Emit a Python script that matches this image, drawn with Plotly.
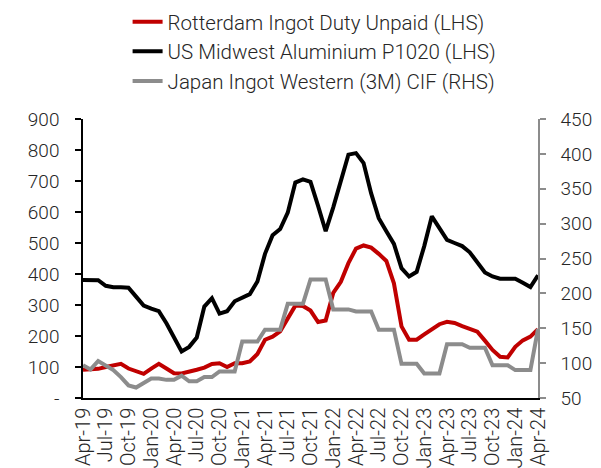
import plotly.graph_objects as go

months = [
    "Apr-19", "May-19", "Jun-19", "Jul-19", "Aug-19", "Sep-19", "Oct-19", "Nov-19", "Dec-19",
    "Jan-20", "Feb-20", "Mar-20", "Apr-20", "May-20", "Jun-20", "Jul-20", "Aug-20", "Sep-20",
    "Oct-20", "Nov-20", "Dec-20", "Jan-21", "Feb-21", "Mar-21", "Apr-21", "May-21", "Jun-21",
    "Jul-21", "Aug-21", "Sep-21", "Oct-21", "Nov-21", "Dec-21", "Jan-22", "Feb-22", "Mar-22",
    "Apr-22", "May-22", "Jun-22", "Jul-22", "Aug-22", "Sep-22", "Oct-22", "Nov-22", "Dec-22",
    "Jan-23", "Feb-23", "Mar-23", "Apr-23", "May-23", "Jun-23", "Jul-23", "Aug-23", "Sep-23",
    "Oct-23", "Nov-23", "Dec-23", "Jan-24", "Feb-24", "Mar-24", "Apr-24",
]

x_tick_labels = [
    "Apr-19", "Jul-19", "Oct-19", "Jan-20", "Apr-20", "Jul-20", "Oct-20", "Jan-21", "Apr-21",
    "Jul-21", "Oct-21", "Jan-22", "Apr-22", "Jul-22", "Oct-22", "Jan-23", "Apr-23", "Jul-23",
    "Oct-23", "Jan-24", "Apr-24",
]

rotterdam = [
    91, 91, 94, 100, 104, 110, 95, 85, 78, 95, 110, 95, 80, 79, 84, 91, 98, 110, 112, 100,
    112, 112, 118, 142, 188, 198, 215, 258, 298, 297, 282, 245, 250, 339, 375, 435, 482, 492,
    485, 465, 442, 370, 231, 188, 188, 205, 222, 238, 246, 242, 232, 222, 214, 185, 155, 133,
    131, 165, 186, 198, 222,
]

us_midwest = [
    381, 381, 380, 362, 357, 357, 356, 327, 298, 288, 280, 241, 197, 150, 165, 195, 295, 322,
    272, 280, 312, 325, 335, 376, 465, 525, 545, 598, 695, 705, 697, 620, 538, 615, 700, 785,
    790, 758, 660, 580, 538, 497, 419, 392, 407, 490, 586, 545, 510, 500, 490, 470, 440, 405,
    392, 385, 385, 385, 372, 358, 396,
]

japan = [
    97, 91, 103, 96, 90, 80, 68, 65, 72, 78, 78, 76, 76, 82, 74, 74, 80, 80, 88, 88, 88,
    131, 131, 131, 148, 148, 148, 185, 185, 185, 220, 220, 220, 177, 177, 177, 174, 174, 174,
    148, 148, 148, 99, 99, 99, 85, 85, 85, 127, 127, 127, 122, 122, 122, 97, 97, 97, 90, 90,
    90, 149,
]

left_ticks = [0, 100, 200, 300, 400, 500, 600, 700, 800, 900]
left_tick_text = ["-", "100", "200", "300", "400", "500", "600", "700", "800", "900"]
right_ticks = [50, 100, 150, 200, 250, 300, 350, 400, 450]
right_tick_text = ["50", "100", "150", "200", "250", "300", "350", "400", "450"]

FONT = "Roboto"
TXT = "#262626"
RED = "#C00000"
BLACK = "#000000"
GRAY = "#8C8C8C"

fig = go.Figure()
fig.add_trace(go.Scatter(x=months, y=rotterdam, mode="lines",
                         name="Rotterdam Ingot Duty Unpaid (LHS)",
                         line=dict(color=RED, width=4)))
fig.add_trace(go.Scatter(x=months, y=us_midwest, mode="lines",
                         name="US Midwest Aluminium P1020 (LHS)",
                         line=dict(color=BLACK, width=4)))
fig.add_trace(go.Scatter(x=months, y=japan, mode="lines",
                         name="Japan Ingot Western (3M) CIF (RHS)",
                         line=dict(color=GRAY, width=4), yaxis="y2"))

fig.update_layout(
    width=601, height=468,
    margin=dict(l=75, r=71, t=111, b=78, autoexpand=False),
    paper_bgcolor="white", plot_bgcolor="white",
    font=dict(family=FONT, size=19, color=TXT, weight=300),
    showlegend=True,
    legend=dict(x=0.098, xanchor="left", y=1.42, yanchor="top",
                font=dict(family=FONT, size=20.5, color=TXT, weight=300),
                bgcolor="rgba(0,0,0,0)", traceorder="normal"),
    xaxis=dict(type="category", range=[0, 60], tickmode="array",
               tickvals=x_tick_labels, ticktext=x_tick_labels, tickangle=-90,
               showgrid=False, zeroline=False, showline=True, linecolor=BLACK,
               linewidth=1.5, ticks="", tickfont=dict(size=20)),
    yaxis=dict(range=[0, 900], tickmode="array", tickvals=left_ticks,
               ticktext=left_tick_text, showgrid=False, zeroline=False,
               showline=True, linecolor=BLACK, linewidth=1.5, ticks="outside",
               ticklen=6, tickwidth=1.5, tickcolor=BLACK, ticklabelstandoff=12),
    yaxis2=dict(range=[50, 450], overlaying="y", side="right", tickmode="array",
                tickvals=right_ticks, ticktext=right_tick_text, showgrid=False,
                zeroline=False, showline=True, linecolor=GRAY, linewidth=1.5,
                ticks="outside", ticklen=6, tickwidth=1.5, tickcolor=GRAY,
                ticklabelstandoff=11),
)

fig.write_html("out.html")
